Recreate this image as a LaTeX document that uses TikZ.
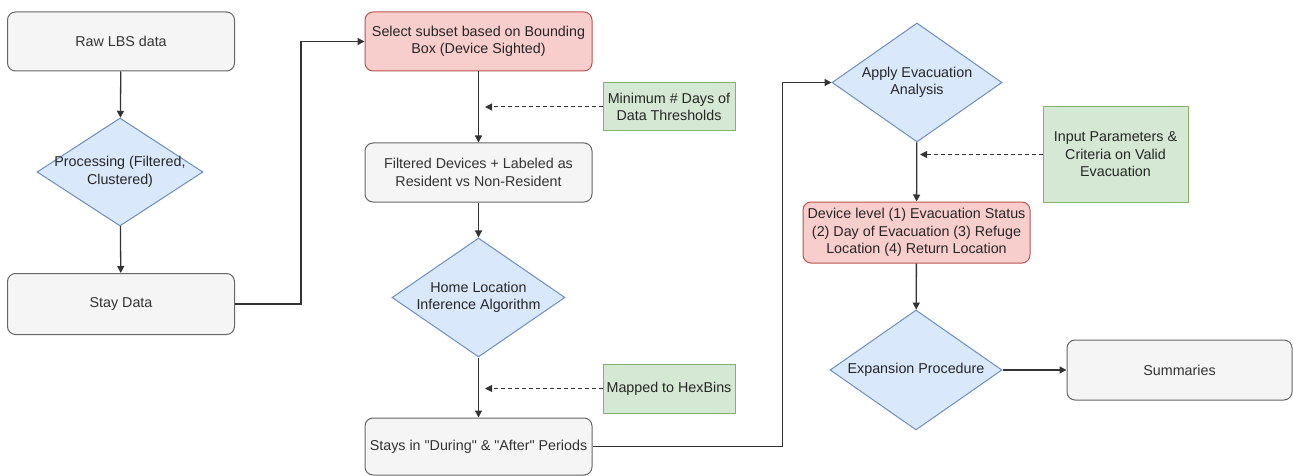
\documentclass[tikz,border=0pt]{standalone}
\usepackage{fontspec}
\setmainfont{Liberation Sans}[Ligatures=TeXOff]
\usetikzlibrary{shapes.geometric,arrows.meta,calc}
\definecolor{gfill}{HTML}{F5F5F5}
\definecolor{gdraw}{HTML}{666666}
\definecolor{gtext}{HTML}{333333}
\definecolor{rfill}{HTML}{F8CECC}
\definecolor{rdraw}{HTML}{B85450}
\definecolor{bfill}{HTML}{DAE8FC}
\definecolor{bdraw}{HTML}{6C8EBF}
\definecolor{nfill}{HTML}{D5E8D4}
\definecolor{ndraw}{HTML}{82B366}
\definecolor{lnk}{HTML}{333333}
\tikzset{
  base/.style={inner sep=2pt, align=center, font=\fontsize{14.3}{17.5}\selectfont, line width=1pt},
  graybox/.style={base, draw=gdraw, fill=gfill, text=gtext, rounded corners=8pt},
  redbox/.style={base, draw=rdraw, fill=rfill, text=black!85, rounded corners=8pt},
  greenbox/.style={base, draw=ndraw, fill=nfill, text=black!85},
  dia/.style={shape=diamond, draw=bdraw, fill=bfill, line width=1pt, inner sep=0pt,
     label={[base, text=black!85]center:#1}},
  conn/.style={draw=lnk, line width=1.3pt, -{Triangle[length=7pt,width=7pt]}},
  dconn/.style={draw=lnk, line width=1pt, dashed, dash pattern=on 4pt off 3pt, -{Triangle[length=7pt,width=7pt]}},
}
\begin{document}
\begin{tikzpicture}[x=1pt,y=-1pt]
\useasboundingbox (0,0) rectangle (1293,476);
% left column
\node[graybox, minimum width=227, minimum height=59] (raw) at (121,41.5) {Raw LBS data};
\node[dia={Processing (Filtered,\\Clustered)}, minimum width=166, minimum height=108] (proc) at (120,172) {};
\node[graybox, minimum width=227, minimum height=61] (stay) at (121,304) {Stay Data};
% middle column
\node[redbox, minimum width=227, minimum height=59] (select) at (478.5,41.5) {Select subset based on Bounding\\Box (Device Sighted)};
\node[graybox, minimum width=227, minimum height=59] (filt) at (478.5,172.5) {Filtered Devices + Labeled as\\Resident vs Non-Resident};
\node[greenbox, minimum width=132, minimum height=48] (minday) at (669,107) {Minimum \# Days of\\Data Thresholds};
\node[dia={Home Location\\Inference Algorithm}, minimum width=173, minimum height=119] (home) at (478.5,297.5) {};
\node[greenbox, minimum width=132, minimum height=49] (hex) at (669,388.5) {Mapped to HexBins};
\node[graybox, minimum width=227, minimum height=57] (stays) at (478.5,446.5) {Stays in "During" \& "After" Periods};
% right column
\node[dia={Apply Evacuation\\Analysis}, minimum width=170, minimum height=119] (apply) at (917,82.5) {};
\node[greenbox, minimum width=145, minimum height=95] (input) at (1115.5,154.5) {Input Parameters \&\\Criteria on Valid\\Evacuation};
\node[redbox, minimum width=227, minimum height=61] (device) at (916.5,232.5) {Device level (1) Evacuation Status\\(2) Day of Evacuation (3) Refuge\\Location (4) Return Location};
\node[dia={Expansion Procedure}, minimum width=172, minimum height=120] (expand) at (916,370) {};
\node[graybox, minimum width=225, minimum height=60] (summ) at (1179.5,370) {Summaries};
% coordinates for dashed arrow ends
\coordinate (m1) at (485,107);
\coordinate (m2) at (485,388.5);
\coordinate (m3) at (920,154.5);
% connectors
\draw[conn] (raw) -- (proc);
\draw[conn] (proc) -- (stay);
\draw[conn] (stay.east) -- ++(66,0) |- (select.west);
\draw[conn] (select) -- (filt);
\draw[conn] (filt) -- (home);
\draw[conn] (home) -- (stays);
\draw[conn] (stays.east) -- ++(190,0) |- (apply.west);
\draw[conn] (apply) -- (device);
\draw[conn] (device) -- (expand);
\draw[conn] (expand) -- (summ);
\draw[dconn] (minday.west) -- (m1);
\draw[dconn] (hex.west) -- (m2);
\draw[dconn] (input.west) -- (m3);
\end{tikzpicture}
\end{document}
